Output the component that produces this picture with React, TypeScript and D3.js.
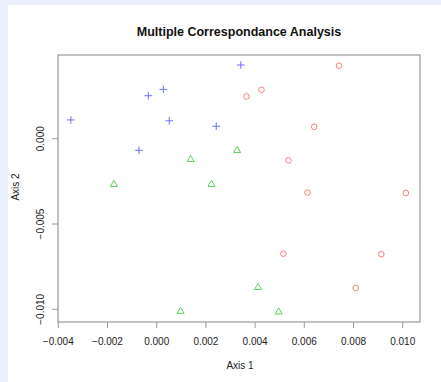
import React from "react";
import * as d3 from "d3";

// Coordinates on the first two MCA axes, one array per group
const blueX = [-0.00349, -0.00034, 0.00027, 0.00051, 0.00242, -0.00072, 0.00342];
const blueY = [0.0011, 0.00252, 0.00289, 0.00105, 0.00073, -0.00068, 0.00432];

const greenX = [-0.00174, 0.00138, 0.00223, 0.00327, 0.00097, 0.00412, 0.00496];
const greenY = [-0.00265, -0.00119, -0.00265, -0.00066, -0.01009, -0.00869, -0.01013];

const redX = [0.00741, 0.00426, 0.00365, 0.0064, 0.00536, 0.00613, 0.01013, 0.00515, 0.00913, 0.00809];
const redY = [0.00428, 0.00287, 0.00248, 0.0007, -0.00127, -0.00316, -0.00318, -0.00674, -0.00677, -0.00875];

const xTicks = [-0.004, -0.002, 0.0, 0.002, 0.004, 0.006, 0.008, 0.01];
const yTicks = [0.0, -0.005, -0.01];

const W = 441;
const H = 382;
const box = { left: 58, right: 420, top: 55, bottom: 322 };

export default function App() {
  // scales anchored on tick positions
  const x = d3.scaleLinear().domain([-0.004, 0.01]).range([58.3, 402.7]);
  const y = d3.scaleLinear().domain([0, -0.01]).range([138.7, 309.3]);
  const fmt = d3.format(".3f");
  const axisColor = "#9a9a9a";
  const font = "'Liberation Sans', Arial, sans-serif";
  const tri = d3.symbol().type(d3.symbolTriangle).size(22)();

  return (
    <div style={{ position: "absolute", left: 0, top: 0 }}>
      <svg width={W} height={H} style={{ display: "block" }}>
        <rect x={0} y={0} width={W} height={H} fill="#eaf0fc" />
        <rect x={8} y={5} width={W - 8} height={H - 5} fill="#ffffff" />
        <text
          x={239}
          y={36}
          textAnchor="middle"
          fontFamily={font}
          fontWeight="bold"
          fontSize={12.5}
          fill="#111"
        >
          Multiple Correspondance Analysis
        </text>
        <rect
          x={box.left}
          y={box.top}
          width={box.right - box.left}
          height={box.bottom - box.top}
          fill="none"
          stroke={axisColor}
          strokeWidth={1.2}
        />
        {xTicks.map((t) => (
          <g key={"x" + t}>
            <line x1={x(t)} x2={x(t)} y1={box.bottom} y2={box.bottom + 6} stroke={axisColor} strokeWidth={1} />
            <text x={x(t)} y={345} textAnchor="middle" fontFamily={font} fontSize={10} fill="#222">
              {fmt(t)}
            </text>
          </g>
        ))}
        {yTicks.map((t) => (
          <g key={"y" + t}>
            <line x1={box.left - 6} x2={box.left} y1={y(t)} y2={y(t)} stroke={axisColor} strokeWidth={1} />
            <text
              transform={`translate(44,${y(t)}) rotate(-90)`}
              textAnchor="middle"
              fontFamily={font}
              fontSize={10}
              fill="#222"
            >
              {fmt(t)}
            </text>
          </g>
        ))}
        <text x={240} y={369} textAnchor="middle" fontFamily={font} fontSize={10} fill="#222">
          Axis 1
        </text>
        <text
          transform={`translate(19,187) rotate(-90)`}
          textAnchor="middle"
          fontFamily={font}
          fontSize={10}
          fill="#222"
        >
          Axis 2
        </text>
        {redX.map((v, i) => (
          <circle key={"r" + i} cx={x(v)} cy={y(redY[i])} r={2.8} fill="none" stroke="#ff7a7a" strokeWidth={1} />
        ))}
        {greenX.map((v, i) => (
          <path
            key={"g" + i}
            d={tri}
            transform={`translate(${x(v)},${y(greenY[i]) + 0.5})`}
            fill="none"
            stroke="#5ed25e"
            strokeWidth={1}
          />
        ))}
        {blueX.map((v, i) => {
          const cx = x(v);
          const cy = y(blueY[i]);
          return (
            <g key={"b" + i} stroke="#6e6eff" strokeWidth={1}>
              <line x1={cx - 3.8} x2={cx + 3.8} y1={cy} y2={cy} />
              <line x1={cx} x2={cx} y1={cy - 3.8} y2={cy + 3.8} />
            </g>
          );
        })}
      </svg>
    </div>
  );
}
